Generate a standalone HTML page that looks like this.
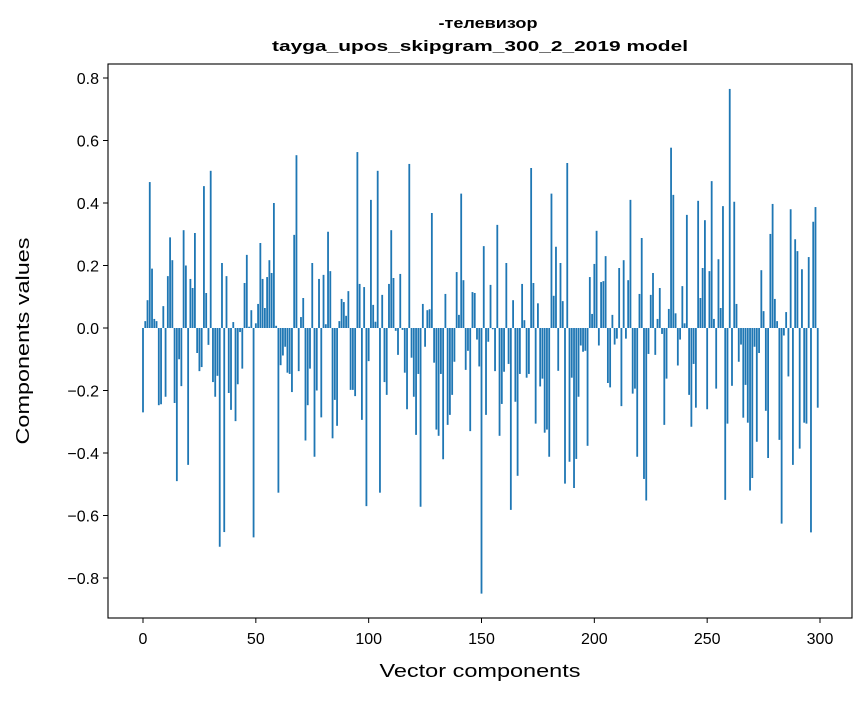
<!DOCTYPE html>
<html><head><meta charset="utf-8"><style>
body{margin:0;background:#fff;}
svg text{font-family:"Liberation Sans","DejaVu Sans",sans-serif;fill:#000;}
</style></head><body>
<svg id="chart" width="867" height="696" xmlns="http://www.w3.org/2000/svg">
<rect width="867" height="696" fill="#fff"/>
<text x="488" y="28" text-anchor="middle" font-size="15" font-weight="bold" textLength="99" lengthAdjust="spacingAndGlyphs">-телевизор</text>
<text x="480" y="51" text-anchor="middle" font-size="15" font-weight="bold" textLength="416" lengthAdjust="spacingAndGlyphs">tayga_upos_skipgram_300_2_2019 model</text>
<g id="bars"></g>
<g id="xticks"></g>
<g id="yticks"></g>
<rect x="108" y="64" width="744" height="554" fill="none" stroke="#000" stroke-width="1.1"/>
<text x="480" y="677" text-anchor="middle" font-size="18" textLength="201" lengthAdjust="spacingAndGlyphs">Vector components</text>
<text transform="translate(29,341) rotate(-90)" text-anchor="middle" font-size="18" textLength="207" lengthAdjust="spacingAndGlyphs">Components values</text>
</svg>
<script>
const values = [
-0.27,0.022,0.089,0.467,0.19,0.029,0.022,-0.247,-0.244,0.07,
-0.22,0.166,0.29,0.217,-0.24,-0.49,-0.1,-0.186,0.313,0.2,
-0.438,0.157,0.128,0.304,-0.08,-0.138,-0.125,0.454,0.112,-0.054,
0.503,-0.173,-0.22,-0.153,-0.70,0.208,-0.653,0.166,-0.208,-0.262,
0.019,-0.298,-0.18,-0.013,-0.13,0.144,0.234,0.004,0.057,-0.67,
0.015,0.077,0.272,0.157,0.064,0.163,0.217,0.176,0.40,0.007,
-0.527,-0.119,-0.088,-0.06,-0.143,-0.147,-0.205,0.298,0.553,-0.138,
0.035,0.096,-0.36,-0.247,-0.13,0.208,-0.412,-0.2,0.157,-0.286,
0.17,0.012,0.308,0.182,-0.353,-0.23,-0.313,0.022,0.093,0.083,
0.039,0.118,-0.198,-0.198,-0.218,0.563,0.141,-0.294,0.131,-0.57,
-0.106,0.41,0.074,0.02,0.503,-0.527,0.106,-0.173,-0.214,0.141,
0.313,0.16,-0.009,-0.086,0.173,-0.006,-0.143,-0.26,0.525,-0.095,
-0.22,-0.342,-0.147,-0.572,0.077,-0.06,0.057,0.06,0.368,-0.111,
-0.325,-0.345,-0.147,-0.42,0.109,-0.31,-0.278,-0.214,-0.108,0.179,
0.042,0.43,0.153,-0.134,-0.073,-0.33,0.115,0.112,-0.037,-0.123,
-0.85,0.262,-0.278,-0.044,0.138,-0.004,-0.138,0.33,-0.345,-0.243,
-0.14,0.208,-0.115,-0.582,0.089,-0.236,-0.473,-0.147,0.141,0.025,
-0.159,-0.147,0.512,0.144,-0.306,0.079,-0.187,-0.162,-0.335,-0.325,
-0.412,0.43,0.103,0.26,-0.137,0.208,0.086,-0.498,0.528,-0.428,
-0.159,-0.512,-0.419,-0.22,-0.056,-0.076,-0.073,-0.377,0.163,0.045,
0.205,0.311,-0.056,0.147,0.15,0.23,-0.176,-0.19,0.042,-0.053,
-0.034,0.192,-0.25,0.217,-0.034,0.153,0.41,-0.21,-0.194,-0.412,
0.109,0.288,-0.483,-0.552,-0.083,0.106,0.176,-0.086,0.029,0.128,
-0.019,-0.31,-0.162,0.061,0.577,0.426,0.047,-0.12,-0.037,0.134,
0.015,0.362,-0.214,-0.316,-0.115,-0.255,0.407,0.096,0.192,0.345,
-0.26,0.182,0.47,0.029,-0.194,0.22,0.064,0.39,-0.55,-0.306,
0.765,-0.185,0.404,0.077,-0.108,-0.053,-0.287,-0.182,-0.303,-0.52,
-0.48,-0.06,-0.364,-0.08,0.185,0.054,-0.265,-0.416,0.301,0.397,
0.093,0.022,-0.358,-0.626,-0.024,0.051,-0.155,0.38,-0.438,0.284,
0.246,-0.386,0.188,-0.303,-0.306,0.227,-0.654,0.34,0.387,-0.255
];
const xTickValues = [0,50,100,150,200,250,300];
const yTickValues = [-0.8,-0.6,-0.4,-0.2,0.0,0.2,0.4,0.6,0.8];
const yTickLabels = ["\u22120.8","\u22120.6","\u22120.4","\u22120.2","0.0","0.2","0.4","0.6","0.8"];

const NS = "http://www.w3.org/2000/svg";
function xScale(v){ return 143 + v * (677/300); }
function yScale(v){ return 328 - v * 312.5; }
const bw = 0.8 * 677/300;
const barsG = document.getElementById('bars');
values.forEach((v,i)=>{
  const r = document.createElementNS(NS,'rect');
  const y0 = yScale(0), y1 = yScale(v);
  r.setAttribute('x', xScale(i) - bw/2);
  r.setAttribute('y', Math.min(y0,y1));
  r.setAttribute('width', bw);
  r.setAttribute('height', Math.max(Math.abs(y1-y0),0.3));
  r.setAttribute('fill', '#1f77b4');
  
  
  barsG.appendChild(r);
});
const xg = document.getElementById('xticks');
xTickValues.forEach(t=>{
  const x = xScale(t);
  const l = document.createElementNS(NS,'line');
  l.setAttribute('x1',x); l.setAttribute('x2',x);
  l.setAttribute('y1',618); l.setAttribute('y2',623);
  l.setAttribute('stroke','#000');
  
  
  xg.appendChild(l);
  const tx = document.createElementNS(NS,'text');
  tx.setAttribute('x',x); tx.setAttribute('y',644);
  tx.setAttribute('text-anchor','middle'); tx.setAttribute('font-size','16');
  tx.textContent = String(t);
  
  
  xg.appendChild(tx);
});
const yg = document.getElementById('yticks');
yTickValues.forEach((t,i)=>{
  const y = yScale(t);
  const l = document.createElementNS(NS,'line');
  l.setAttribute('x1',103); l.setAttribute('x2',108);
  l.setAttribute('y1',y); l.setAttribute('y2',y);
  l.setAttribute('stroke','#000');
  
  
  yg.appendChild(l);
  const tx = document.createElementNS(NS,'text');
  tx.setAttribute('x',99); tx.setAttribute('y',y+6);
  tx.setAttribute('text-anchor','end'); tx.setAttribute('font-size','16');
  tx.textContent = yTickLabels[i];
  
  
  yg.appendChild(tx);
});
</script>
</body></html>
